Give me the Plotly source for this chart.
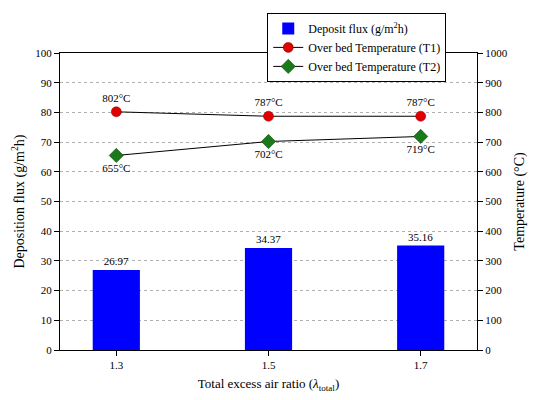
import plotly.graph_objects as go

categories = ["1.3", "1.5", "1.7"]
deposit_flux = [26.97, 34.37, 35.16]
temp_t1 = [802, 787, 787]
temp_t2 = [655, 702, 719]
t1_labels = ["802°C", "787°C", "787°C"]
t2_labels = ["655°C", "702°C", "719°C"]

xpos = list(range(len(categories)))
font = "Liberation Serif"

fig = go.Figure()
fig.add_trace(go.Bar(
    x=xpos, y=deposit_flux, name="Deposit flux (g/m<sup>2</sup>h)",
    marker=dict(color="#0000ff", line=dict(width=0)), width=0.31,
    text=[f"{v:.2f}" for v in deposit_flux], textposition="outside",
    textfont=dict(size=11, color="black", family=font), cliponaxis=False,
))
fig.add_trace(go.Scatter(
    x=xpos, y=temp_t1, yaxis="y2", name="Over bed Temperature (T1)",
    mode="lines+markers+text", line=dict(color="black", width=1),
    marker=dict(symbol="circle", size=10, color="#e00000", line=dict(color="#800000", width=0.5)),
    text=t1_labels, textposition="top center", textfont=dict(size=11, color="black", family=font),
    cliponaxis=False,
))
fig.add_trace(go.Scatter(
    x=xpos, y=temp_t2, yaxis="y2", name="Over bed Temperature (T2)",
    mode="lines+markers+text", line=dict(color="black", width=1),
    marker=dict(symbol="diamond", size=11, color="#1a7a1a", line=dict(color="#0a3a0a", width=0.5)),
    text=t2_labels, textposition="bottom center", textfont=dict(size=11, color="black", family=font),
    cliponaxis=False,
))

fig.update_layout(
    width=537, height=400,
    margin=dict(l=60, r=49, t=53, b=43),
    paper_bgcolor="white", plot_bgcolor="white",
    font=dict(family=font, size=11, color="black"),
    showlegend=True,
    legend=dict(x=0.497, y=1.135, xanchor="left", yanchor="top",
                bgcolor="white", bordercolor="black", borderwidth=1,
                font=dict(size=12, family=font), tracegroupgap=0),
    xaxis=dict(
        range=[-0.37, 2.37], tickvals=xpos, ticktext=categories,
        showline=True, linecolor="black", linewidth=1, mirror=True,
        ticks="outside", ticklen=5, tickcolor="black", showgrid=False, zeroline=False,
        tickfont=dict(family=font, size=11),
        title=dict(text="Total excess air ratio (<i>λ</i><sub>total</sub>)", font=dict(size=13, family=font), standoff=8),
    ),
    yaxis=dict(
        range=[0, 100], dtick=10, showline=True, linecolor="black", linewidth=1,
        ticks="outside", ticklen=5, tickcolor="black",
        tickfont=dict(family=font, size=11),
        showgrid=True, gridcolor="#b0b0b0", griddash="dot", gridwidth=1, zeroline=False,
        title=dict(text="Deposition flux (g/m<sup>2</sup>h)", font=dict(size=14, family=font), standoff=7),
    ),
    yaxis2=dict(
        range=[0, 1000], dtick=100, overlaying="y", side="right",
        showline=True, linecolor="black", linewidth=1,
        ticks="outside", ticklen=5, tickcolor="black", showgrid=False, zeroline=False,
        tickfont=dict(family=font, size=11),
        title=dict(text="Temperature (°C)", font=dict(size=14, family=font), standoff=7),
    ),
)

fig.write_html("out.html")
